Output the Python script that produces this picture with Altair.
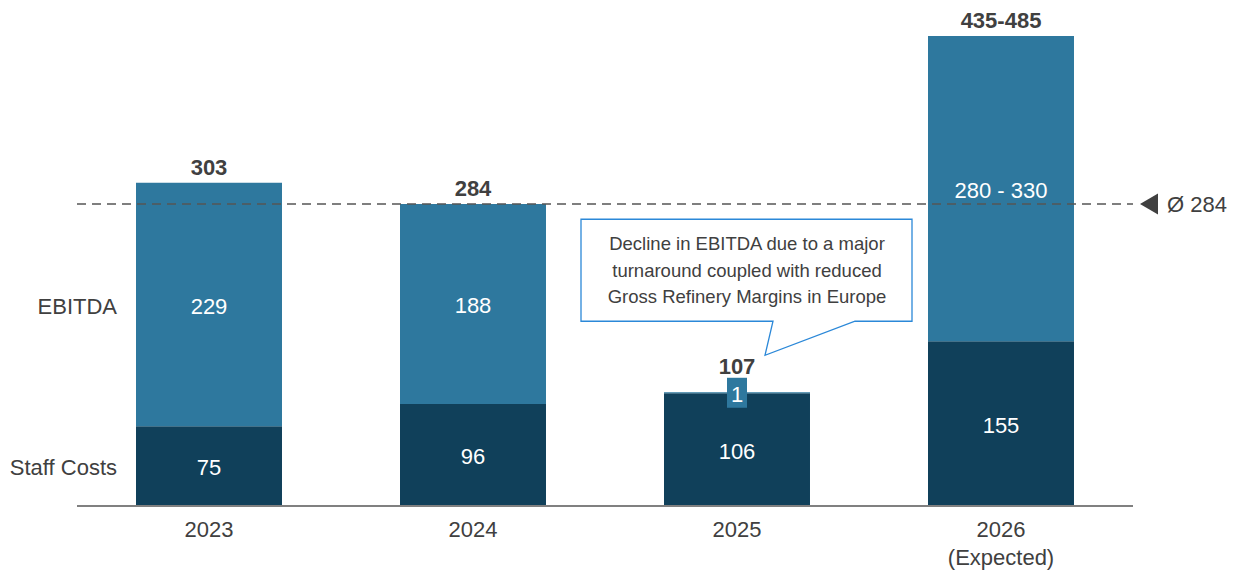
import altair as alt
import pandas as pd

# ---- data ----
years = ["2023", "2024", "2025", "2026"]
year_labels = ["2023", "2024", "2025", "2026\n(Expected)"]
staff_costs = [75, 96, 106, 155]
ebitda = [229, 188, 1, 287]          # 2026 drawn inside the 280-330 range
ebitda_labels = ["229", "188", "1", "280 - 330"]
total_labels = ["303", "284", "107", "435-485"]
series_names = ["Staff Costs", "EBITDA"]
average_value = 284
average_label = "Ø 284"
callout_text = "Decline in EBITDA due to a major\nturnaround coupled with reduced\nGross Refinery Margins in Europe"

C_STAFF = "#10405A"
C_EBITDA = "#2E789E"
TXT = "#404040"
FONT = "Liberation Sans"

# ---- tables built from the arrays ----
rows = []
for i, y in enumerate(years):
    rows.append({"year": y, "series": "Staff Costs", "y0": 0, "y1": staff_costs[i],
                 "mid": staff_costs[i] / 2, "label": str(staff_costs[i])})
    rows.append({"year": y, "series": "EBITDA", "y0": staff_costs[i],
                 "y1": staff_costs[i] + ebitda[i],
                 "mid": staff_costs[i] + ebitda[i] / 2, "label": ebitda_labels[i]})
seg = pd.DataFrame(rows)

tot = pd.DataFrame({
    "year": years,
    "total": [s + e for s, e in zip(staff_costs, ebitda)],
    "label": total_labels,
    "xlabel": year_labels,
})

legend_df = pd.DataFrame({
    "name": series_names,
    "mid": [staff_costs[0] / 2, staff_costs[0] + ebitda[0] / 2],
})
avg_df = pd.DataFrame({"avg": [average_value], "label": [average_label]})

x_enc = alt.X("year:N", sort=years, axis=None,
              scale=alt.Scale(paddingInner=0.447, paddingOuter=0.2235))
y_scale = alt.Scale(domain=[0, 475], nice=False, zero=True)

bars = alt.Chart(seg).mark_bar().encode(
    x=x_enc,
    y=alt.Y("y0:Q", scale=y_scale, axis=None),
    y2="y1:Q",
    color=alt.Color("series:N", scale=alt.Scale(domain=series_names, range=[C_STAFF, C_EBITDA]), legend=None),
)

seg_labels = alt.Chart(seg).transform_filter(
    "datum.year != '2025' || datum.series == 'Staff Costs'"
).mark_text(color="white", fontSize=22, font=FONT, baseline="middle", dy=2).encode(
    x=x_enc, y=alt.Y("mid:Q", scale=y_scale), text="label:N"
)

# boxed tiny label for the 2025 EBITDA slice
small = seg[(seg.year == "2025") & (seg.series == "EBITDA")]
small_box = alt.Chart(small).mark_point(
    shape="M-10,-15 L10,-15 L10,15 L-10,15 Z", size=4, filled=True, opacity=1, color=C_EBITDA
).encode(x=x_enc, y=alt.Y("mid:Q", scale=y_scale))
small_text = alt.Chart(small).mark_text(color="white", fontSize=22, font=FONT, baseline="middle", dy=2).encode(
    x=x_enc, y=alt.Y("mid:Q", scale=y_scale), text="label:N"
)

totals = alt.Chart(tot).transform_filter("datum.year != '2025'").mark_text(
    color=TXT, fontSize=22, font=FONT, fontWeight="bold", baseline="alphabetic", dy=-8
).encode(x=x_enc, y=alt.Y("total:Q", scale=y_scale), text="label:N")
totals_2025 = alt.Chart(tot).transform_filter("datum.year == '2025'").mark_text(
    color=TXT, fontSize=22, font=FONT, fontWeight="bold", baseline="alphabetic", dy=-18
).encode(x=x_enc, y=alt.Y("total:Q", scale=y_scale), text="label:N")

xlabels = alt.Chart(tot).mark_text(
    color=TXT, fontSize=22, font=FONT, baseline="alphabetic", lineBreak="\n", lineHeight=28
).encode(x=x_enc, y=alt.value(535.5), text="xlabel:N")

left_labels = alt.Chart(legend_df).mark_text(
    color=TXT, fontSize=22, font=FONT, align="right", baseline="middle", dy=2
).encode(x=alt.value(40), y=alt.Y("mid:Q", scale=y_scale), text="name:N")

baseline_rule = alt.Chart(tot).mark_rule(color="#808080", strokeWidth=2).encode(
    x=alt.value(0), x2=alt.value(1056), y=alt.value(505)
)

avg_rule = alt.Chart(avg_df).mark_rule(color="#555555", strokeWidth=1.5, strokeDash=[9, 6]).encode(
    x=alt.value(0), x2=alt.value(1056), y=alt.Y("avg:Q", scale=y_scale)
)
avg_tri = alt.Chart(avg_df).mark_point(
    shape="M-9,0 L9,-10.5 L9,10.5 Z", size=4, filled=True, opacity=1, color=TXT
).encode(x=alt.value(1072), y=alt.Y("avg:Q", scale=y_scale))
avg_text = alt.Chart(avg_df).mark_text(
    color=TXT, fontSize=22, font=FONT, align="left", baseline="middle", dy=1
).encode(x=alt.value(1090), y=alt.Y("avg:Q", scale=y_scale), text="label:N")

call_df = tot[tot.year == "2025"].assign(note=callout_text)
callout_box = alt.Chart(call_df).mark_point(
    shape="M-156,-173 L175,-173 L175,-71 L118,-71 L28,-37 L36,-71 L-156,-71 Z",
    size=4, filled=False, fill="white", fillOpacity=1, stroke="#2B88D8", strokeWidth=1.3, opacity=1
).encode(x=x_enc, y=alt.Y("total:Q", scale=y_scale))
callout_txt = alt.Chart(call_df).mark_text(
    color=TXT, fontSize=18.5, font="Liberation Sans Narrow, Liberation Sans", align="center",
    baseline="middle", lineBreak="\n", lineHeight=26.5, dx=10, dy=-148
).encode(x=x_enc, y=alt.Y("total:Q", scale=y_scale), text="note:N")

chart = alt.layer(
    bars, seg_labels, small_box, small_text, baseline_rule, avg_rule, avg_tri, avg_text,
    totals, totals_2025, xlabels, left_labels, callout_box, callout_txt
).properties(
    width=1056, height=505,
    padding={"left": 77, "top": 1, "right": 102, "bottom": 66},
    autosize=alt.AutoSizeParams(type="none"),
    background="white",
).configure_view(stroke=None)

chart.save("out.html", embed_options={"renderer": "svg", "actions": False})
